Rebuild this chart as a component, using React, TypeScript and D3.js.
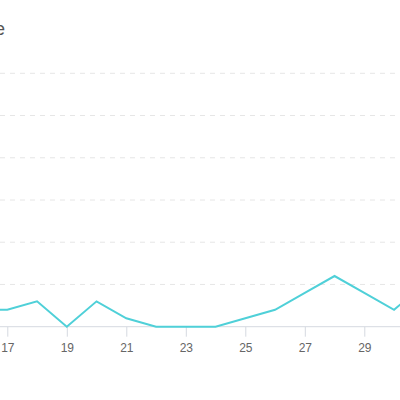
import { useEffect, useRef } from 'react';
import * as d3 from 'd3';

const days = [16, 17, 18, 19, 20, 21, 22, 23, 24, 25, 26, 27, 28, 29, 30, 31];
const values = [2, 2, 3, 0, 3, 1, 0, 0, 0, 1, 2, 4, 6, 4, 2, 5];
const tickDays = [17, 19, 21, 23, 25, 27, 29, 31];
const gridValues = [5, 10, 15, 20, 25, 30];

const lineColor = '#4fd0d8';

export default function App() {
  const svgRef = useRef<SVGSVGElement>(null);

  useEffect(() => {
    if (!svgRef.current) return;
    const svg = d3.select(svgRef.current);
    svg.selectAll('*').remove();

    // the chart is wider than the window: only days 16-31 fall inside
    const x = d3.scaleLinear().domain([17, 29]).range([7.3, 364.3]);
    const y = d3.scaleLinear().domain([0, 30]).range([326.7, 73.3]);

    svg
      .append('text')
      .attr('x', 5)
      .attr('y', 35)
      .attr('text-anchor', 'end')
      .style('font-family', 'Arial, Liberation Sans, sans-serif')
      .style('font-size', '18px')
      .style('fill', '#555')
      .text('Daily Usage');

    svg
      .append('g')
      .selectAll('line')
      .data(gridValues)
      .enter()
      .append('line')
      .attr('x1', -20)
      .attr('x2', 420)
      .attr('y1', (d) => y(d))
      .attr('y2', (d) => y(d))
      .attr('stroke', '#e6e6e6')
      .attr('stroke-dasharray', '5,5');

    const axis = svg
      .append('g')
      .attr('transform', `translate(0,${y(0)})`)
      .call(
        d3
          .axisBottom(x)
          .tickValues(tickDays)
          .tickSize(10)
          .tickPadding(7)
          .tickFormat((d) => String(d))
      );
    axis.select('.domain').remove();
    axis
      .append('line')
      .attr('x1', -20)
      .attr('x2', 420)
      .attr('stroke', '#d5d9e0');
    axis.selectAll('.tick line').attr('stroke', '#d5d9e0');
    axis
      .selectAll('.tick text')
      .style('font-family', 'Arial, Liberation Sans, sans-serif')
      .style('font-size', '12px')
      .attr('fill', '#666');

    const line = d3
      .line<number>()
      .x((_, i) => x(days[i]))
      .y((d) => y(d));

    svg
      .append('path')
      .datum(values)
      .attr('d', line)
      .attr('fill', 'none')
      .attr('stroke', lineColor)
      .attr('stroke-width', 2);
  }, []);

  return (
    <svg
      ref={svgRef}
      width={400}
      height={400}
      style={{ position: 'absolute', left: 0, top: 0, overflow: 'hidden', background: '#fff' }}
    />
  );
}
